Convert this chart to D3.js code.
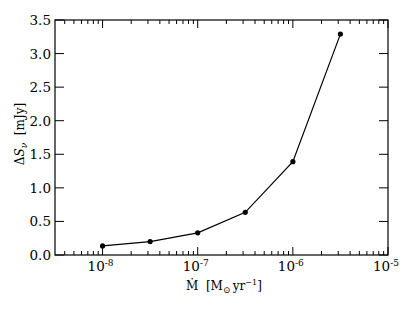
<!DOCTYPE html>
<html>
<head>
<meta charset="utf-8">
<script src="https://cdn.jsdelivr.net/npm/d3@7"></script>
<style>
  body { margin: 0; background: #fff; }
  text { font-family: "DejaVu Serif", serif; fill: #000; }
</style>
</head>
<body>
<div id="chart"></div>
<script>
// mass-loss rate (Msun/yr) and flux excess (mJy)
const mdot = [1e-8, 3.16e-8, 1e-7, 3.16e-7, 1e-6, 3.16e-6];
const deltaS = [0.135, 0.2, 0.33, 0.635, 1.39, 3.29];
const yTicks = [0, 0.5, 1.0, 1.5, 2.0, 2.5, 3.0, 3.5];
const xDecades = [-8, -7, -6, -5];

const width = 415, height = 312;
const margin = {left: 55, right: 27, top: 20, bottom: 57};

const svg = d3.select('#chart').append('svg')
    .attr('width', width)
    .attr('height', height);

const x = d3.scaleLog()
    .domain([Math.pow(10, -8.5), 1e-5])
    .range([margin.left, width - margin.right]);

const y = d3.scaleLinear()
    .domain([0, 3.5])
    .range([height - margin.bottom, margin.top]);

const x0 = margin.left, x1 = width - margin.right;
const y0 = height - margin.bottom, y1 = margin.top;

// minor ticks for the log axis
let minor = [];
for (let e = -9; e <= -6; e++) {
    for (let m = 2; m <= 9; m++) {
        let v = m * Math.pow(10, e);
        if (v >= x.domain()[0] && v <= x.domain()[1]) minor.push(v);
    }
}
const major = xDecades.map(e => Math.pow(10, e));

const ticks = svg.append('g').attr('stroke', '#000').attr('stroke-width', 1);

// x ticks bottom and top (inward)
[[y0, -1], [y1, 1]].forEach(([yy, dir]) => {
    ticks.selectAll(null).data(minor).join('line')
        .attr('x1', d => x(d)).attr('x2', d => x(d))
        .attr('y1', yy).attr('y2', yy + dir * 4);
    ticks.selectAll(null).data(major).join('line')
        .attr('x1', d => x(d)).attr('x2', d => x(d))
        .attr('y1', yy).attr('y2', yy + dir * 8);
});

// y ticks left and right (inward)
[[x0, 1], [x1, -1]].forEach(([xx, dir]) => {
    ticks.selectAll(null).data(yTicks).join('line')
        .attr('x1', xx).attr('x2', xx + dir * 9)
        .attr('y1', d => y(d)).attr('y2', d => y(d));
});

// frame
svg.append('rect')
    .attr('x', x0).attr('y', y1)
    .attr('width', x1 - x0).attr('height', y0 - y1)
    .attr('fill', 'none').attr('stroke', '#000').attr('stroke-width', 1.2);

// y tick labels
svg.append('g').selectAll('text').data(yTicks).join('text')
    .attr('x', x0 - 4)
    .attr('y', d => y(d) + 5)
    .attr('text-anchor', 'end')
    .attr('font-size', 13.5)
    .text(d => d.toFixed(1));

// x tick labels 10^e
const xl = svg.append('g').selectAll('text').data(xDecades).join('text')
    .attr('x', d => x(Math.pow(10, d)) - 2)
    .attr('y', y0 + 16)
    .attr('text-anchor', 'middle')
    .attr('font-size', 13.5);
xl.append('tspan').text('10');
xl.append('tspan').attr('dy', -5).attr('font-size', 9).text(d => d);

// line + points
const pts = mdot.map((m, i) => [m, deltaS[i]]);
svg.append('path')
    .datum(pts)
    .attr('fill', 'none')
    .attr('stroke', '#000')
    .attr('stroke-width', 1.2)
    .attr('d', d3.line().x(d => x(d[0])).y(d => y(d[1])));

svg.append('g').selectAll('circle').data(pts).join('circle')
    .attr('cx', d => x(d[0]))
    .attr('cy', d => y(d[1]))
    .attr('r', 2.6)
    .attr('fill', '#000');

// axis labels
const xlab = svg.append('text')
    .attr('x', 186)
    .attr('y', 290)
    .attr('font-size', 12);
xlab.append('tspan').text('Ṁ\u00a0\u00a0[M');
xlab.append('tspan').attr('dy', 3).attr('font-size', 9).text('⊙');
xlab.append('tspan').attr('dy', -3).text('\u2009yr');
xlab.append('tspan').attr('dy', -5).attr('font-size', 8).text('−1');
xlab.append('tspan').attr('dy', 5).text(']');

const ylab = svg.append('text')
    .attr('transform', `translate(24, 134) rotate(-90)`)
    .attr('text-anchor', 'middle')
    .attr('font-size', 12);
ylab.append('tspan').text('Δ');
ylab.append('tspan').attr('font-style', 'italic').text('S');
ylab.append('tspan').attr('dy', 3).attr('font-size', 9).attr('font-style', 'italic').text('ν');
ylab.append('tspan').attr('dy', -3).text('\u00a0\u00a0[mJy]');
</script>
</body>
</html>
